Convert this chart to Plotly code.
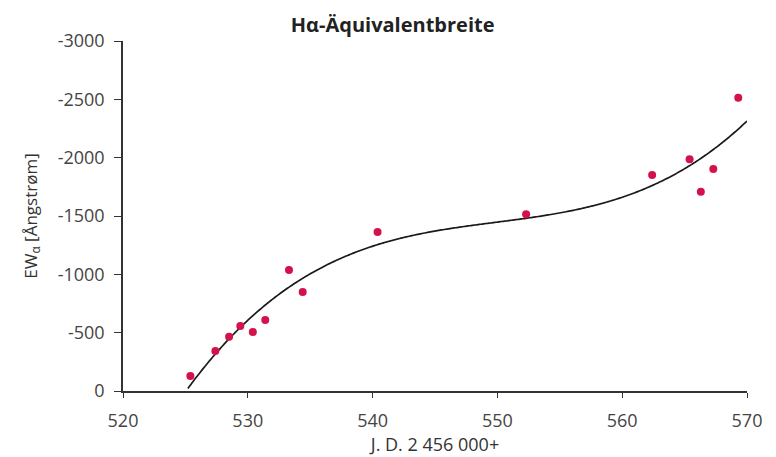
import numpy as np
import plotly.graph_objects as go

# Observations (J.D. 2456000+ , EW in Angstrom)
jd = [525.4, 527.4, 528.5, 529.4, 530.4, 531.4, 533.3, 534.4, 540.4,
      552.3, 562.4, 565.4, 566.3, 567.3, 569.3]
ew = [-129, -343, -465, -557, -506, -608, -1037, -849, -1363,
      -1514, -1851, -1986, -1708, -1903, -2514]

x_ticks = [520, 530, 540, 550, 560, 570]
y_ticks = [0, -500, -1000, -1500, -2000, -2500, -3000]
y_tick_labels = ["0", "-500", "-1000", "-1500", "-2000", "-2500", "-3000"]

# polynomial (order 3) trendline as in the original spreadsheet chart
coef = np.polyfit(jd, ew, 3)
xt = np.linspace(525.2, 570, 400)
yt = np.polyval(coef, xt)
mask = yt <= 0
xt, yt = xt[mask], yt[mask]

fig = go.Figure()
fig.add_trace(go.Scatter(x=xt, y=yt, mode="lines",
                         line=dict(color="#1a1a1a", width=1.7, simplify=False),
                         hoverinfo="skip", showlegend=False))
fig.add_trace(go.Scatter(x=jd, y=ew, mode="markers",
                         marker=dict(color="#d3124c", size=8, symbol="circle"),
                         showlegend=False))

fnt = "Open Sans, Lato, sans-serif"
fig.update_layout(
    width=776, height=457,
    margin=dict(l=123, r=29, t=41, b=66),
    paper_bgcolor="white", plot_bgcolor="white",
    font=dict(family=fnt, color="#333333", size=18),
    title=dict(text="<b>Hα-Äquivalentbreite</b>", x=0.506, xanchor="center",
               y=0.945, yanchor="middle", font=dict(size=20, color="#222222")),
)
fig.update_xaxes(
    range=[520, 570], tickvals=x_ticks, showgrid=False, zeroline=False,
    showline=True, linecolor="#333333", linewidth=1.5,
    ticks="outside", ticklen=5, tickcolor="#333333", tickwidth=1.2,
    tickfont=dict(size=18, color="#444444"), ticklabelstandoff=8,
    title=dict(text="J. D. 2 456 000+", font=dict(size=18, color="#333333"), standoff=0),
)
fig.update_yaxes(
    range=[0, -3000], tickvals=y_ticks, ticktext=y_tick_labels,
    showgrid=False, zeroline=False,
    showline=True, linecolor="#333333", linewidth=1.5,
    ticks="outside", ticklen=7, tickcolor="#333333", tickwidth=1.2,
    tickfont=dict(size=18, color="#444444"), ticklabelstandoff=6,
    title=dict(text="EW<sub>α</sub> [Ångstrøm]", font=dict(size=17, color="#333333"), standoff=16),
)

fig.write_html("out.html")
